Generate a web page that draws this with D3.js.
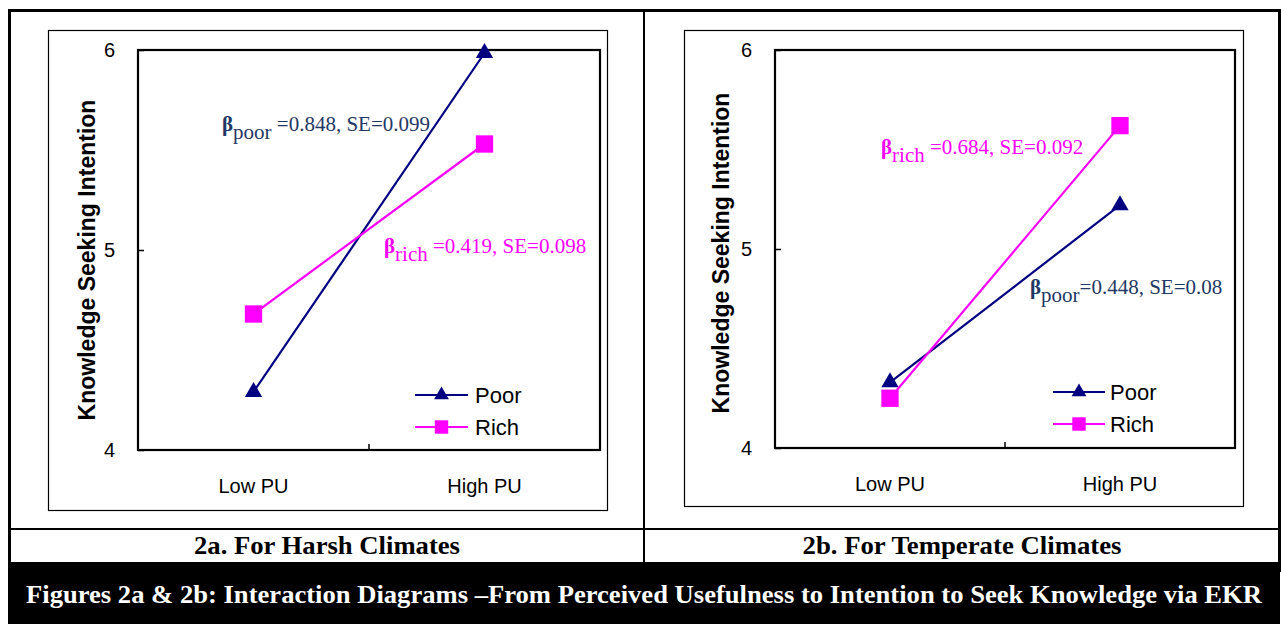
<!DOCTYPE html>
<html>
<head>
<meta charset="utf-8">
<script src="https://cdn.jsdelivr.net/npm/d3@7"></script>
<style>
  body { margin: 0; background: #fff; }
  svg { display: block; }
</style>
</head>
<body>
<div id="chart"></div>
<script>
// data
const categories = ["Low PU", "High PU"];
const yTicks = [4, 5, 6];
const seriesNames = ["Poor", "Rich"];
const harshPoor = [4.29, 5.985];
const harshRich = [4.68, 5.53];
const temperatePoor = [4.33, 5.22];
const temperateRich = [4.25, 5.62];
const harshNotes = [
  { sub: "poor", rest: " =0.848, SE=0.099" },
  { sub: "rich", rest: " =0.419, SE=0.098" }
];
const temperateNotes = [
  { sub: "rich", rest: " =0.684, SE=0.092" },
  { sub: "poor", rest: "=0.448, SE=0.08" }
];
const panelTitles = ["2a. For Harsh Climates", "2b. For Temperate Climates"];
const caption = "Figures 2a & 2b: Interaction Diagrams \u2013From Perceived Usefulness to Intention to Seek Knowledge via EKR";

const W = 1281, H = 624;
const navy = "#000080", magenta = "#ff00ff", noteNavy = "#1f3864";
const serif = "'Liberation Serif', 'Times New Roman', serif";
const sans = "'Liberation Sans', Arial, sans-serif";

const svg = d3.select("#chart")
  .append("svg")
  .attr("width", W)
  .attr("height", H);

// outer frame
svg.append("rect")
  .attr("x", 9.5).attr("y", 10.5)
  .attr("width", 1270).attr("height", 560)
  .attr("fill", "none").attr("stroke", "black").attr("stroke-width", 3);
svg.append("line")
  .attr("x1", 644).attr("x2", 644).attr("y1", 10).attr("y2", 562)
  .attr("stroke", "black").attr("stroke-width", 2);
svg.append("line")
  .attr("x1", 9).attr("x2", 1280).attr("y1", 529).attr("y2", 529)
  .attr("stroke", "black").attr("stroke-width", 2);
svg.append("rect")
  .attr("x", 8).attr("y", 562)
  .attr("width", 1272).attr("height", 62)
  .attr("fill", "black");

svg.append("text")
  .attr("x", 644).attr("y", 603)
  .attr("text-anchor", "middle")
  .attr("fill", "white")
  .attr("textLength", 1236)
  .attr("lengthAdjust", "spacingAndGlyphs")
  .style("font-family", serif)
  .style("font-weight", "bold")
  .style("font-size", "25px")
  .text(caption);

const panels = [
  {
    box: [48, 30, 607, 510], plot: [138, 50, 600, 450],
    poor: harshPoor, rich: harshRich, title: panelTitles[0], titleX: 327, titleLen: 266,
    notes: harshNotes,
    notePos: [[222, 131, noteNavy], [384, 253, magenta]],
    legend: { x1: 415, x2: 468, y: 395, tx: 475 },
    ytitle: [87, 260]
  },
  {
    box: [684, 30, 1243, 506], plot: [775, 50, 1235, 448],
    poor: temperatePoor, rich: temperateRich, title: panelTitles[1], titleX: 962, titleLen: 319,
    notes: temperateNotes,
    notePos: [[881, 154, magenta], [1030, 294, noteNavy]],
    legend: { x1: 1053, x2: 1105, y: 392, tx: 1110 },
    ytitle: [721, 253]
  }
];

panels.forEach(p => {
  const [bx0, by0, bx1, by1] = p.box;
  const [px0, py0, px1, py1] = p.plot;

  svg.append("rect")
    .attr("x", bx0 + 0.5).attr("y", by0 + 0.5)
    .attr("width", bx1 - bx0).attr("height", by1 - by0)
    .attr("fill", "white").attr("stroke", "black").attr("stroke-width", 1.2);

  const x = d3.scaleBand()
    .domain(categories)
    .range([px0, px1])
    .padding(0);
  const y = d3.scaleLinear()
    .domain([d3.min(yTicks), d3.max(yTicks)])
    .range([py1, py0]);

  const g = svg.append("g");

  // y axis, ticks drawn inward
  g.append("g")
    .attr("transform", `translate(${px0},0)`)
    .call(d3.axisLeft(y).tickValues(yTicks).tickSize(-6).tickPadding(23).tickFormat(d3.format("d")))
    .call(a => a.select(".domain").remove())
    .call(a => a.selectAll("line").attr("stroke", "black").attr("stroke-width", 1.5))
    .call(a => a.selectAll("text")
      .style("font-family", sans)
      .style("font-size", "20px")
      .attr("fill", "black"));

  // x axis labels
  g.append("g")
    .attr("transform", `translate(0,${py1})`)
    .call(d3.axisBottom(x).tickSize(0).tickPadding(29))
    .call(a => a.select(".domain").remove())
    .call(a => a.selectAll("text")
      .style("font-family", sans)
      .style("font-size", "20px")
      .attr("fill", "black"));

  // divider tick between categories
  g.append("line")
    .attr("x1", x(categories[1])).attr("x2", x(categories[1]))
    .attr("y1", py1).attr("y2", py1 - 6)
    .attr("stroke", "black").attr("stroke-width", 1.5);

  // plot border
  g.append("rect")
    .attr("x", px0).attr("y", py0)
    .attr("width", px1 - px0).attr("height", py1 - py0)
    .attr("fill", "none").attr("stroke", "black").attr("stroke-width", 2.2);

  // y title
  g.append("text")
    .attr("transform", `translate(${p.ytitle[0]},${p.ytitle[1]}) rotate(-90)`)
    .attr("text-anchor", "middle")
    .attr("dy", "0.35em")
    .style("font-family", sans)
    .style("font-weight", "bold")
    .style("font-size", "23px")
    .text("Knowledge Seeking Intention");

  const cx = c => x(c) + x.bandwidth() / 2;
  const line = d3.line()
    .x(d => cx(d.cat))
    .y(d => y(d.v));

  const series = [
    { name: seriesNames[0], vals: p.poor, color: navy, sym: d3.symbolTriangle, size: 130 },
    { name: seriesNames[1], vals: p.rich, color: magenta, sym: d3.symbolSquare, size: 300 }
  ];

  series.forEach(s => {
    const pts = categories.map((c, i) => ({ cat: c, v: s.vals[i] }));
    g.append("path")
      .datum(pts)
      .attr("d", line)
      .attr("fill", "none")
      .attr("stroke", s.color)
      .attr("stroke-width", 2.2);
    g.selectAll(null)
      .data(pts)
      .join("path")
      .attr("transform", d => `translate(${cx(d.cat)},${y(d.v)})`)
      .attr("d", d3.symbol(s.sym, s.size))
      .attr("fill", s.color);
  });

  // legend
  series.forEach((s, i) => {
    const ly = p.legend.y + i * 32;
    g.append("line")
      .attr("x1", p.legend.x1).attr("x2", p.legend.x2)
      .attr("y1", ly).attr("y2", ly)
      .attr("stroke", s.color).attr("stroke-width", 2.2);
    g.append("path")
      .attr("transform", `translate(${(p.legend.x1 + p.legend.x2) / 2},${ly})`)
      .attr("d", d3.symbol(s.sym, s.sym === d3.symbolSquare ? 180 : 95))
      .attr("fill", s.color);
    g.append("text")
      .attr("x", p.legend.tx).attr("y", ly)
      .attr("dy", "0.36em")
      .style("font-family", sans)
      .style("font-size", "22px")
      .text(s.name);
  });

  // slope annotations
  p.notes.forEach((n, i) => {
    const [nx, ny, col] = p.notePos[i];
    const t = g.append("text")
      .attr("x", nx).attr("y", ny)
      .attr("fill", col)
      .style("font-family", serif)
      .style("font-size", "21px");
    t.append("tspan").style("font-weight", "bold").text("\u03b2");
    t.append("tspan").attr("dy", 8).text(n.sub);
    t.append("tspan").attr("dy", -8).text(n.rest);
  });

  // panel subtitle
  svg.append("text")
    .attr("x", p.titleX).attr("y", 554)
    .attr("text-anchor", "middle")
    .attr("textLength", p.titleLen)
    .attr("lengthAdjust", "spacingAndGlyphs")
    .style("font-family", serif)
    .style("font-weight", "bold")
    .style("font-size", "25px")
    .text(p.title);
});
</script>
</body>
</html>
